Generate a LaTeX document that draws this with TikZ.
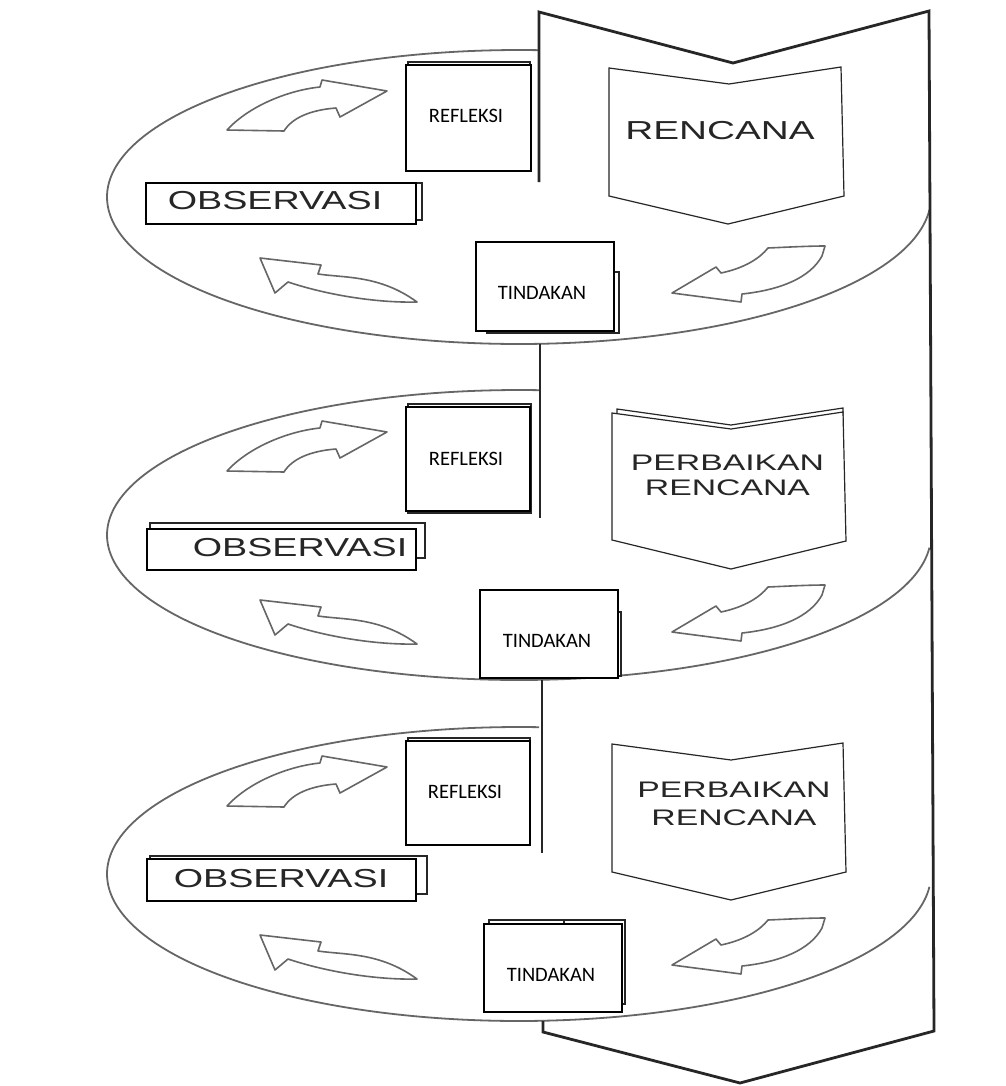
\documentclass[tikz,border=0pt]{standalone}
\usepackage{fontspec}
\usepackage{graphicx}
\setmainfont{Liberation Sans}
\newfontfamily\calfont{Carlito}
\newcommand{\wide}[2]{\scalebox{#1}[1]{#2}}
\begin{document}
\begin{tikzpicture}[x=1bp,y=-1bp,
  band/.style={line width=2.8bp, draw=black!85, line join=miter},
  spiral/.style={line width=1.8bp, draw=black!60},
  curvarr/.style={line width=1.6bp, draw=black!60, fill=white, line join=round},
  pbox/.style={draw=black, line width=1.4bp, fill=white, rectangle, inner sep=0pt},
  sheet/.style={draw=black!85, line width=1.4bp, fill=white},
  penta/.style={draw=black!85, line width=1.2bp, fill=white, line join=miter},
  smalltxt/.style={font={\calfont\fontsize{20.5bp}{24bp}\selectfont}, inner sep=0pt},
  obstxt/.style={font={\fontsize{26bp}{28bp}\selectfont}, inner sep=0pt, text=black!85},
  pertxt/.style={font={\fontsize{22.5bp}{25bp}\selectfont}, inner sep=0pt, align=center, text=black!85},
  arrTL/.pic={\draw[curvarr] (227,130) .. controls (250,105) and (290,90) .. (320,87) -- (322,80) -- (387,91) -- (340,117) -- (336,108) .. controls (310,110) and (292,118) .. (284,131) -- cycle;},
  arrBL/.pic={\draw[curvarr] (260,258) -- (321,265) -- (318,274) .. controls (345,278) and (380,275) .. (417,302) .. controls (380,303) and (330,296) .. (288,282) -- (275,293) -- cycle;},
  arrR/.pic={\draw[curvarr] (672,293) -- (716,267) -- (721,273) .. controls (745,268) and (760,258) .. (768,248) .. controls (790,247) and (810,246) .. (825,246) -- (822,256) .. controls (810,278) and (780,290) .. (742,294) -- (741,302) -- cycle;}
]
\useasboundingbox[fill=white] (0,0) rectangle (1006,1086);

% spiral (visible parts of the three loops)
\draw[spiral] plot[domain=-87.2:-355, samples=220] ({519+412*cos(\x)},{197+147*sin(\x)});
\draw[spiral] plot[domain=-87.2:-355, samples=220] ({519+412*cos(\x)},{535+145*sin(\x)});
\draw[spiral] plot[domain=-87.2:-355, samples=220] ({519+412*cos(\x)},{874+147*sin(\x)});

% band (big downward arrow)
\draw[band] (539,182) -- (539,12) -- (733,63) -- (929,11) -- (934,1031) -- (740,1083) -- (543,1032) -- (543,1021);
\draw[band] (540,344) -- (540,518);
\draw[band] (542,680) -- (542,853);

% curved arrows
\pic at (0,0) {arrTL};
\pic at (0,341) {arrTL};
\pic at (0,676) {arrTL};
\pic at (0,0) {arrBL};
\pic at (0,342) {arrBL};
\pic at (0,677) {arrBL};
\pic at (0,0) {arrR};
\pic at (0,339) {arrR};
\pic at (0,672) {arrR};

% ---------- section 1 ----------
\draw[sheet] (408,62) rectangle (530,169);
\node[pbox, minimum width=125bp, minimum height=106bp] (ref1) at (468.5,118) {};
\node[smalltxt] (ref1t) at (466,116) {REFLEKSI};
\draw[sheet] (150,183) rectangle (422,220);
\node[pbox, minimum width=270bp, minimum height=41bp] (obs1) at (281,203.5) {};
\node[obstxt] (obs1t) at (275,201) {\wide{1.45}{OBSERVASI}};
\draw[sheet] (487,272) rectangle (619,333);
\node[pbox, minimum width=138bp, minimum height=89bp] (tin1) at (545,286.5) {};
\node[smalltxt] (tin1t) at (542,293) {TINDAKAN};
\draw[penta] (609,68) -- (729,84) -- (841,67) -- (844,196) -- (728,224) -- (609,196) -- cycle;
\node[obstxt] (ren1) at (720,131) {\wide{1.49}{RENCANA}};

% ---------- section 2 ----------
\draw[sheet] (408,404) rectangle (531,513);
\node[pbox, minimum width=124bp, minimum height=104bp] (ref2) at (468,459) {};
\node[smalltxt] (ref2t) at (466,459) {REFLEKSI};
\draw[sheet] (150,523) rectangle (425,558);
\node[pbox, minimum width=269bp, minimum height=41bp] (obs2) at (281.5,549.5) {};
\node[obstxt] (obs2t) at (300,548) {\wide{1.45}{OBSERVASI}};
\draw[sheet] (486,612) rectangle (621,676);
\node[pbox, minimum width=138bp, minimum height=88bp] (tin2) at (549,634) {};
\node[smalltxt] (tin2t) at (547,641) {TINDAKAN};
\draw[penta] (617,409) -- (731,425) -- (843,408) -- (843,530) -- (731,560) -- (617,530) -- cycle;
\draw[penta] (612,413) -- (731,429) -- (843,412) -- (846,541) -- (731,569) -- (612,540) -- cycle;
\node[pertxt] (per2) at (727.5,475.5) {\wide{1.5}{PERBAIKAN}\\\wide{1.5}{RENCANA}};

% ---------- section 3 ----------
\draw[sheet] (408,738) rectangle (530,843);
\node[pbox, minimum width=124bp, minimum height=104bp] (ref3) at (468,793) {};
\node[smalltxt] (ref3t) at (465,792) {REFLEKSI};
\draw[sheet] (150,856) rectangle (427,894);
\node[pbox, minimum width=269bp, minimum height=42bp] (obs3) at (281.5,880) {};
\node[obstxt] (obs3t) at (281,879) {\wide{1.45}{OBSERVASI}};
\draw[sheet] (489,920) rectangle (625,1004);
\draw[sheet] (564,920) -- (564,924);
\node[pbox, minimum width=138bp, minimum height=88bp] (tin3) at (553,968) {};
\node[smalltxt] (tin3t) at (551,975) {TINDAKAN};
\draw[penta] (612,744) -- (731,760) -- (843,743) -- (846,872) -- (731,900) -- (612,872) -- cycle;
\node[pertxt, font={\fontsize{22.5bp}{28bp}\selectfont}] (per3) at (734,804) {\wide{1.5}{PERBAIKAN}\\\wide{1.5}{RENCANA}};
\end{tikzpicture}
\end{document}
